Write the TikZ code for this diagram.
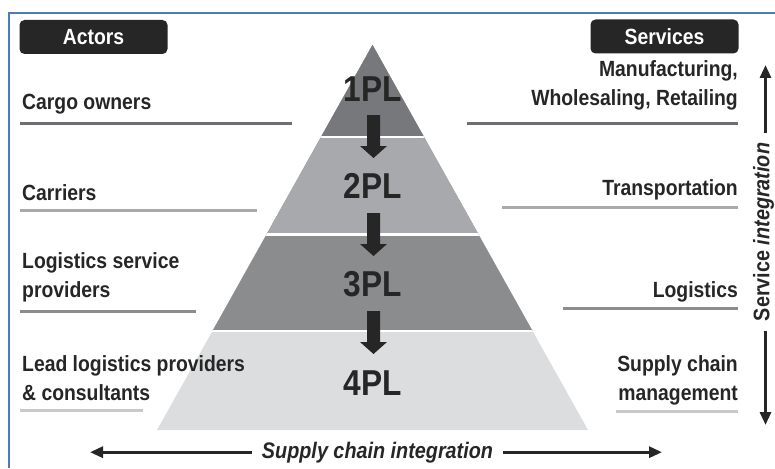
\documentclass[tikz,border=0pt]{standalone}
\usepackage{fontspec}
\setmainfont{Liberation Sans}
\newfontfamily\narrowfont[FakeStretch=0.88]{Liberation Sans}
\usetikzlibrary{arrows.meta}

\definecolor{ink}{HTML}{262626}
\definecolor{frameblue}{HTML}{4A7EBB}
\definecolor{tierA}{HTML}{77787B}
\definecolor{tierB}{HTML}{A7A9AC}
\definecolor{tierC}{HTML}{8B8C8E}
\definecolor{tierD}{HTML}{DCDDDE}
\definecolor{ruleA}{HTML}{6D6E71}
\definecolor{ruleB}{HTML}{A7A9AC}
\definecolor{ruleC}{HTML}{8B8C8E}
\definecolor{ruleD}{HTML}{C8C9CB}

\tikzset{
  header/.style={fill=ink, rounded corners=5pt, minimum width=148pt, minimum height=34pt,
    inner sep=0pt, text=white, font=\fontsize{22}{24}\narrowfont\bfseries},
  actor/.style={anchor=base west, inner sep=0pt, align=left, text=ink,
    font=\fontsize{22}{29}\narrowfont\bfseries},
  service/.style={anchor=base east, inner sep=0pt, align=right, text=ink,
    font=\fontsize{22}{29}\narrowfont\bfseries},
  pl/.style={anchor=base, inner sep=0pt, text=ink, font=\fontsize{36}{36}\narrowfont\bfseries},
  axislabel/.style={text=ink, font=\fontsize{22.5}{24}\narrowfont\bfseries},
  underline/.style={line width=3pt},
  axis/.style={line width=3pt, draw=ink, -{Triangle[width=11pt,length=13pt]}},
  pics/downarrow/.style={code={
    \fill[ink] (-6.5,0) -- (6.5,0) -- (6.5,31) -- (13.5,31) -- (0,43)
      -- (-13.5,31) -- (-6.5,31) -- cycle;}}
}

\begin{document}
\begin{tikzpicture}[x=1pt,y=-1pt]
\useasboundingbox (0,0) rectangle (775,468);

% frame
\draw[frameblue, line width=2pt] (8.5,468) -- (8.5,13) -- (775,13);

% headers
\node[header] (actors) at (93.5,37) {Actors};
\node[header] (services) at (664.5,36.5) {Services};

% pyramid, four tiers
\begin{scope}
  \clip (372.5,45) -- (588,430) -- (157,430) -- cycle;
  \fill[tierD] (0,0) rectangle (775,468);
  \fill[tierC] (0,0) rectangle (775,331);
  \fill[tierB] (0,0) rectangle (775,234.5);
  \fill[tierA] (0,0) rectangle (775,137);
  \draw[white, line width=2.5pt] (0,137) -- (775,137);
  \draw[white, line width=2.5pt] (0,234.5) -- (775,234.5);
  \draw[white, line width=2.5pt] (0,331) -- (775,331);
\end{scope}

% tier labels
\node[pl] (pl1) at (373,102) {1PL};
\node[pl] (pl2) at (373,198) {2PL};
\node[pl] (pl3) at (373,296) {3PL};
\node[pl] (pl4) at (373,395) {4PL};

% block arrows between tiers
\coordinate (a1) at (373.5,115);
\coordinate (a2) at (373.5,213);
\coordinate (a3) at (373.5,311);
\pic at (a1) {downarrow};
\pic at (a2) {downarrow};
\pic at (a3) {downarrow};

% actors (multi-line nodes sit on the baseline of their last line)
\node[actor] (cargo) at (22,110) {Cargo owners};
\node[actor] (carriers) at (22,200) {Carriers};
\node[actor] (lsp) at (22,297) {Logistics service\\providers};
\node[actor] (llp) at (22,400) {Lead logistics providers\\\& consultants};

% services
\node[service] (manu) at (738,106) {Manufacturing,\\Wholesaling, Retailing};
\node[service] (transp) at (738,195) {Transportation};
\node[service] (logi) at (738,297) {Logistics};
\node[service] (scm) at (738,400) {Supply chain\\management};

% underlines
\draw[underline, ruleA] (20,123) -- (292,123);
\draw[underline, ruleA] (467,123) -- (738,123);
\draw[underline, ruleB] (20,210) -- (257,210);
\draw[underline, ruleB] (502,207) -- (738,207);
\draw[underline, ruleC] (20,311) -- (196,311);
\draw[underline, ruleC] (563,308) -- (738,308);
\draw[underline, ruleD] (20,410) -- (143,410);
\draw[underline, ruleD] (616,411) -- (738,411);

% service integration axis
\node[axislabel, rotate=90, inner xsep=10pt, inner ysep=0pt] (si) at (763.5,232)
  {Service \textit{integration}};
\coordinate (siTop) at (765.5,65);
\coordinate (siBot) at (765.5,425);
\draw[axis] (si.east -| siTop) -- (siTop);
\draw[axis] (si.west -| siBot) -- (siBot);

% supply chain integration axis
\node[axislabel, anchor=base, inner xsep=10pt] (sc) at (377.5,458)
  {\itshape Supply chain integration};
\coordinate (scL) at (90,452);
\coordinate (scR) at (662,452);
\draw[axis] (sc.west) -- (sc.west -| scL);
\draw[axis] (sc.east) -- (sc.east -| scR);
\end{tikzpicture}
\end{document}
